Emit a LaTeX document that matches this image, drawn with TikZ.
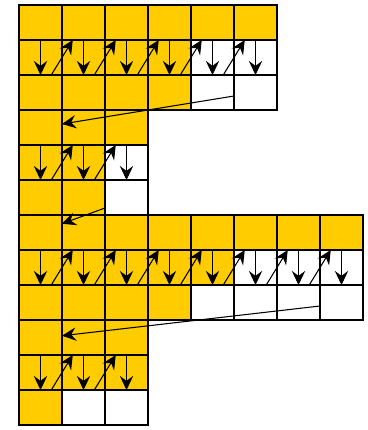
\documentclass[tikz,border=0pt]{standalone}
\usepackage{xcolor}
\usetikzlibrary{arrows.meta}
\definecolor{cellgold}{HTML}{FFCC00}
\newcommand{\cellw}{1.075cm}
\newcommand{\cellh}{0.875cm}

\begin{document}
\begin{tikzpicture}[>={Stealth[length=10pt,width=9.5pt,inset=3.5pt]},
  cell/.style={draw=black, line width=0.8pt, rectangle, inner sep=0pt, outer sep=0pt,
    minimum width=\cellw, minimum height=\cellh, anchor=north west},
  scan/.style={->, line width=0.75pt}]
  \useasboundingbox ({-0.442*\cellw},{0.143*\cellh}) rectangle ({8.116*\cellw},{-12.143*\cellh});
  % rows: row / cells / filled cells
  \foreach \r/\n/\k in {0/6/6, 1/6/4, 2/6/4, 3/3/3, 4/3/2, 5/3/2,
                        6/8/8, 7/8/5, 8/8/4, 9/3/3, 10/3/3, 11/3/1} {
    \foreach \c in {1,...,\n} {
      \ifnum\c>\k \def\cellfill{white}\else\def\cellfill{cellgold}\fi
      \node[cell, fill=\cellfill] (\r-\c) at ({(\c-1)*\cellw},{-\r*\cellh}) {};
    }
  }
  % scan rows: down and up steps
  \foreach \r/\n in {1/6, 4/3, 7/8, 10/3} {
    \foreach \c in {1,...,\n}
      \draw[scan] (\r-\c.north) -- (\r-\c.south);
    \pgfmathtruncatemacro{\m}{\n-1}
    \foreach \c [count=\d from 2] in {1,...,\m}
      \draw[scan] ([xshift=-0.25*\cellw]\r-\c.south east) -- ([xshift=0.25*\cellw]\r-\d.north west);
  }
  % jumps to next block
  \draw[scan] ([yshift=-0.1*\cellh]2-6.west) -- ([yshift=0.1*\cellh]3-2.west);
  \draw[scan] ([yshift=-0.3*\cellh]5-3.west) -- ([yshift=0.25*\cellh]6-2.west);
  \draw[scan] ([yshift=-0.1*\cellh]8-8.west) -- ([yshift=0.05*\cellh]9-2.west);
\end{tikzpicture}
\end{document}
